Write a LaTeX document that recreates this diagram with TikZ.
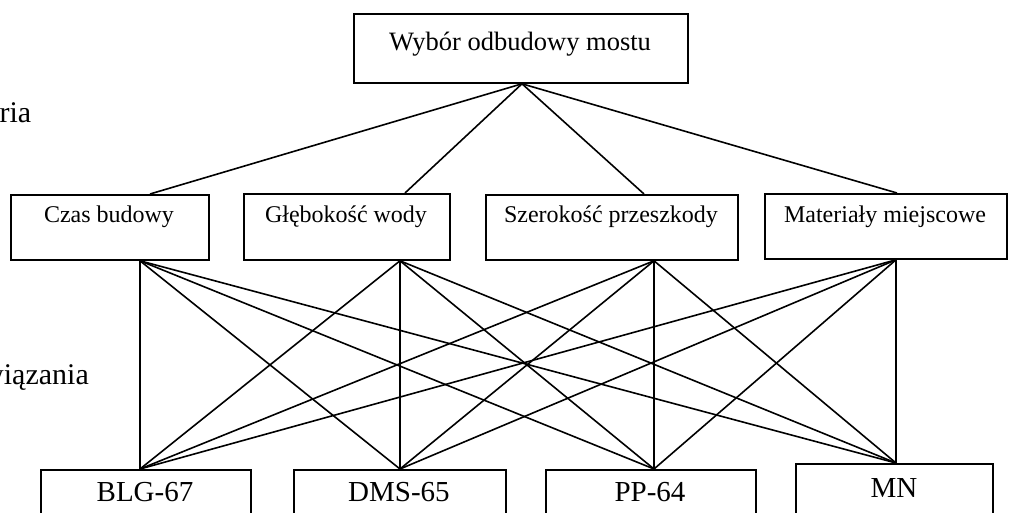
\documentclass[tikz,border=0pt]{standalone}
\usepackage{fontspec}
\setmainfont{Liberation Serif}
\usetikzlibrary{calc}
\begin{document}
\begin{tikzpicture}[x=1pt,y=-1pt,
  box/.style={draw=black,line width=1.8pt,fill=none,inner sep=0pt,anchor=north west,rectangle},
  conn/.style={draw=black,line width=1.6pt},
  lbl/.style={inner sep=0pt,anchor=base},
  fA/.style={font=\fontsize{26.5pt}{30pt}\selectfont},
  fB/.style={font=\fontsize{24pt}{28pt}\selectfont},
  fC/.style={font=\fontsize{29pt}{33pt}\selectfont},
  fD/.style={font=\fontsize{30pt}{34pt}\selectfont}]
\useasboundingbox (0,0) rectangle (1010,513);
\clip (0,0) rectangle (1010,513);
% side labels
\node[lbl,fD,anchor=base east] (lk) at (31.5,123) {Kryteria};
\node[lbl,fD,anchor=base east] (lr) at (89,384) {Rozwiązania};
% goal
\node[box,minimum width=334pt,minimum height=69pt] (goal) at (353,13) {};
\node[lbl,fA] (goalt) at (520,51) {Wybór odbudowy mostu};
% criteria
\node[box,minimum width=198pt,minimum height=65pt] (c1) at (10,194) {};
\node[box,minimum width=206pt,minimum height=66pt] (c2) at (243,193) {};
\node[box,minimum width=252pt,minimum height=65pt] (c3) at (485,194) {};
\node[box,minimum width=242pt,minimum height=65pt] (c4) at (764,193) {};
\node[lbl,fB] (c1t) at (109,223) {Czas budowy};
\node[lbl,fB] (c2t) at (346,223) {Głębokość wody};
\node[lbl,fB] (c3t) at (611,223) {Szerokość przeszkody};
\node[lbl,fB] (c4t) at (885,223) {Materiały miejscowe};
% alternatives
\node[box,minimum width=210pt,minimum height=70pt] (a1) at (40,469) {};
\node[box,minimum width=212pt,minimum height=70pt] (a2) at (293,469) {};
\node[box,minimum width=210pt,minimum height=70pt] (a3) at (545,469) {};
\node[box,minimum width=197pt,minimum height=76pt] (a4) at (795,463) {};
\node[lbl,fC] (a1t) at (145,501) {BLG-67};
\node[lbl,fC] (a2t) at (399,501) {DMS-65};
\node[lbl,fC] (a3t) at (650,501) {PP-64};
\node[lbl,fC] (a4t) at (894,497) {MN};
% goal to criteria
\coordinate (g) at ($(goal.south west)+(169,0)$);
\draw[conn] (g) -- ($(c1.north west)+(140,0)$);
\draw[conn] (g) -- ($(c2.north west)+(162,0)$);
\draw[conn] (g) -- ($(c3.north west)+(159,0)$);
\draw[conn] (g) -- ($(c4.north west)+(133,0)$);
% criteria bottom points
\coordinate (b1) at ($(c1.south west)+(130,0)$);
\coordinate (b2) at ($(c2.south west)+(157,0)$);
\coordinate (b3) at ($(c3.south west)+(169,0)$);
\coordinate (b4) at ($(c4.south west)+(132,0)$);
% alternative top points
\coordinate (t1) at ($(a1.north west)+(100,0)$);
\coordinate (t2) at ($(a2.north west)+(107,0)$);
\coordinate (t3) at ($(a3.north west)+(109,0)$);
\coordinate (t4) at ($(a4.north west)+(101,0)$);
\foreach \i in {1,2,3,4}{
  \foreach \j in {1,2,3,4}{
    \draw[conn] (b\i) -- (t\j);
  }
}
\end{tikzpicture}
\end{document}
